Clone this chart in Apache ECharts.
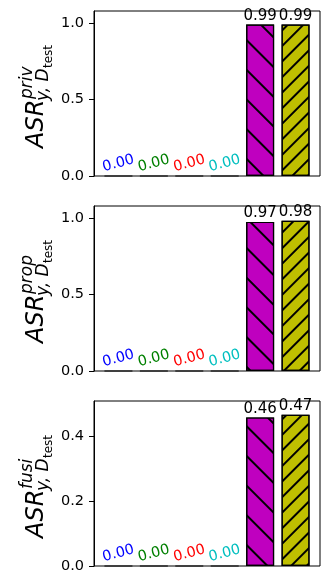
<!DOCTYPE html>
<html>
<head>
<meta charset="utf-8">
<script src="https://cdn.jsdelivr.net/npm/echarts@6/dist/echarts.min.js"></script>
<style>
html, body { margin: 0; padding: 0; background: #fff; }
#chart { width: 330px; height: 587px; }
</style>
</head>
<body>
<div id="chart"></div>
<script>
// bar positions (6 methods, no x tick labels)
const positions = [0, 1, 2, 3, 4, 5]
const barColors = ['#0000ff', '#008000', '#ff0000', '#00bfbf', '#bf00bf', '#bfbf00']

// panel values
const privValues = [0, 0, 0, 0, 0.991, 0.991]
const propValues = [0, 0, 0, 0, 0.974, 0.982]
const fusiValues = [0, 0, 0, 0, 0.458, 0.466]

// y ticks
const ticksTop = [0, 0.5, 1.0]
const ticksBottom = [0, 0.2, 0.4]

// y-axis label superscripts
const supers = ['priv', 'prop', 'fusi']

const FONT = 'DejaVu Sans'

const panels = [
  {values: privValues, ticks: ticksTop, max: 1.08, top: 11},
  {values: propValues, ticks: ticksTop, max: 1.078, top: 206},
  {values: fusiValues, ticks: ticksBottom, max: 0.5086, top: 401}
]

function hatch(rot, gap){
  return {
    symbol: 'rect',
    symbolSize: 1,
    color: '#000',
    dashArrayX: [1, 0],
    dashArrayY: [1.1, gap],
    rotation: rot
  }
}

function makeData(values){
  return values.map((v, i) => {
    let zero = v === 0
    let item = {
      value: [positions[i], v],
      itemStyle: {color: barColors[i], borderColor: '#000', borderWidth: 1.2},
      label: zero ? {
        color: barColors[i],
        rotate: 15,
        position: 'top',
        distance: 12,
        verticalAlign: 'middle',
        align: 'center',
        fontSize: 14.5
      } : {
        color: '#000',
        position: 'top',
        distance: 1,
        fontSize: 15
      }
    }
    if (i === 4) item.itemStyle.decal = hatch(Math.PI / 4, 19)
    if (i === 5) item.itemStyle.decal = hatch(-Math.PI / 4, 9)
    return item
  })
}

let grid = [], xAxis = [], yAxis = [], series = [], graphic = []

panels.forEach((p, k) => {
  grid.push({
    left: 94, top: p.top, width: 226, height: 165,
    show: true, borderColor: '#000', borderWidth: 1
  })
  xAxis.push({
    type: 'value', gridIndex: k, min: -0.69, max: 5.69,
    axisLine: {show: false}, axisTick: {show: false},
    axisLabel: {show: false}, splitLine: {show: false}
  })
  yAxis.push({
    type: 'value', gridIndex: k, min: 0, max: p.max,
    axisLine: {show: true, onZero: false, lineStyle: {color: '#000', width: 1}},
    axisTick: {show: true, length: 5, customValues: p.ticks, lineStyle: {color: '#000'}},
    axisLabel: {
      customValues: p.ticks, color: '#000', fontSize: 14.5, fontFamily: FONT, margin: 10,
      formatter: v => v.toFixed(1)
    },
    splitLine: {show: false}
  })
  series.push({
    type: 'bar', xAxisIndex: k, yAxisIndex: k,
    barWidth: 28,
    data: makeData(p.values),
    label: {show: true, fontFamily: FONT, formatter: d => d.value[1].toFixed(2)},
    animation: false
  })

  // y label: ASR^{sup}_{y, D_test}, rotated so it reads bottom to top
  let oy = 148 + k * 195
  graphic.push({
    type: 'group', x: 45, y: oy, rotation: Math.PI / 2,
    children: [
      {type: 'text', x: 0, y: -8.4, style: {text: 'ASR', font: 'italic 24px "DejaVu Sans"', fill: '#000', verticalAlign: 'middle', align: 'left'}},
      {type: 'text', x: 49, y: -17, style: {text: supers[k], font: 'italic 17px "DejaVu Sans"', fill: '#000', verticalAlign: 'middle', align: 'left'}},
      {type: 'text', x: 47, y: -1, style: {text: 'y, D', font: 'italic 17px "DejaVu Sans"', fill: '#000', verticalAlign: 'middle', align: 'left'}},
      {type: 'text', x: 80, y: 3.8, style: {text: 'test', font: '12px "DejaVu Sans"', fill: '#000', verticalAlign: 'middle', align: 'left'}}
    ]
  })
})

let chart = echarts.init(document.getElementById('chart'))
chart.setOption({
  animation: false,
  backgroundColor: '#fff',
  textStyle: {fontFamily: FONT},
  grid, xAxis, yAxis, series, graphic
})
</script>
</body>
</html>
